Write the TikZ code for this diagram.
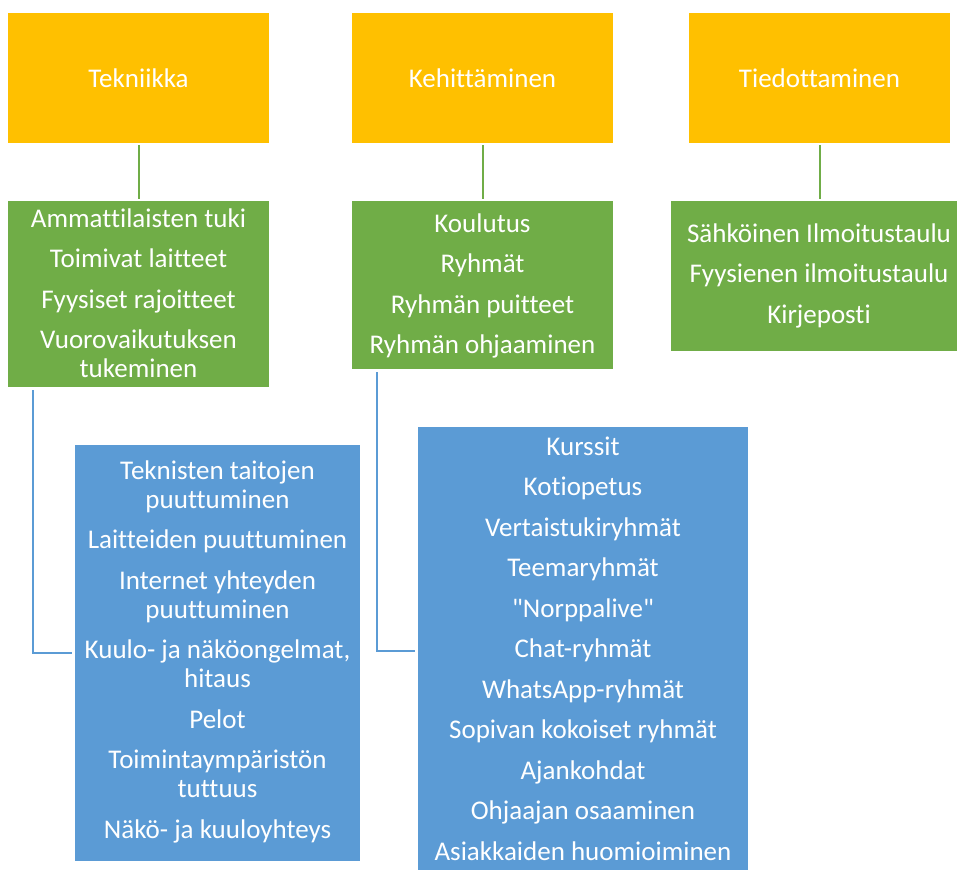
\documentclass[tikz,border=0pt]{standalone}
\usepackage{fontspec}
\setmainfont{Carlito}[Ligatures={NoCommon}]
% same face without the TeX input mapping, so that " stays a straight quote
\newfontfamily\rawquote{Carlito}
\usetikzlibrary{calc}
\definecolor{topfill}{HTML}{FFC000}
\definecolor{midfill}{HTML}{70AD47}
\definecolor{lowfill}{HTML}{5B9BD5}
\tikzset{
  box/.style={rectangle, inner sep=0pt, outer sep=0pt, anchor=north west},
  topbox/.style={box, fill=topfill},
  midbox/.style={box, fill=midfill},
  lowbox/.style={box, fill=lowfill},
  label/.style={text=white, font=\fontsize{27}{29}\selectfont},
  list/.style={label, align=center, inner sep=0pt, anchor=north},
  midlink/.style={draw=midfill, line width=2pt, shorten <=2.5pt, shorten >=2.5pt},
  lowlink/.style={draw=lowfill, line width=2pt, shorten >=3pt}
}
\newcommand{\gap}{\\[11.5pt]}
\newcommand{\dq}{{\rawquote"}}
\begin{document}
\begin{tikzpicture}[x=1pt,y=-1pt]
\useasboundingbox (0,0) rectangle (957,869);

% top row
\node[topbox, minimum width=261pt, minimum height=130pt] (o1) at (8,13) {};
\node[topbox, minimum width=261pt, minimum height=130pt] (o2) at (352,13) {};
\node[topbox, minimum width=261pt, minimum height=130pt] (o3) at (689,13) {};
\node[label] (o1t) at (o1.center) {Tekniikka};
\node[label] (o2t) at (o2.center) {Kehittäminen};
\node[label] (o3t) at (o3.center) {Tiedottaminen};

% middle row
\node[midbox, minimum width=261pt, minimum height=186pt] (g1) at (8,201) {};
\node[midbox, minimum width=261pt, minimum height=168pt] (g2) at (352,201) {};
\node[midbox, minimum width=296pt, minimum height=150pt] (g3) at (671,201) {};

\node[list] (g1t) at (138.5,206.7) {\strut Ammattilaisten tuki\gap Toimivat laitteet\gap
  Fyysiset rajoitteet\gap Vuorovaikutuksen\\ tukeminen};
\node[list] (g2t) at (482.5,211.7) {\strut Koulutus\gap Ryhmät\gap Ryhmän puitteet\gap
  Ryhmän ohjaaminen};
\node[list] (g3t) at (819,221.7) {\strut Sähköinen Ilmoitustaulu\gap
  Fyysienen ilmoitustaulu\gap Kirjeposti};

% bottom row
\node[lowbox, minimum width=285pt, minimum height=416pt] (b1) at (75,445) {};
\node[lowbox, minimum width=330pt, minimum height=448pt] (b2) at (418,427) {};

\node[list] (b1t) at (217.5,458.7) {\strut Teknisten taitojen\\ puuttuminen\gap
  Laitteiden puuttuminen\gap Internet yhteyden\\ puuttuminen\gap
  Kuulo- ja näköongelmat,\\ hitaus\gap Pelot\gap Toimintaympäristön\\ tuttuus\gap
  Näkö- ja kuuloyhteys};
\node[list] (b2t) at (583,434.7) {\strut Kurssit\gap Kotiopetus\gap Vertaistukiryhmät\gap
  Teemaryhmät\gap \dq Norppalive\dq\gap Chat-ryhmät\gap WhatsApp-ryhmät\gap
  Sopivan kokoiset ryhmät\gap Ajankohdat\gap Ohjaajan osaaminen\gap
  Asiakkaiden huomioiminen};

% connectors
\draw[midlink] (o1.south) -- (g1.north);
\draw[midlink] (o2.south) -- (g2.north);
\draw[midlink] (o3.south) -- ($(o3.south)+(0,58)$);
\draw[lowlink] ($(g1.south west)+(25,3)$) |- (b1.west);
\draw[lowlink] ($(g2.south west)+(25,3)$) |- (b2.west);
\end{tikzpicture}
\end{document}
